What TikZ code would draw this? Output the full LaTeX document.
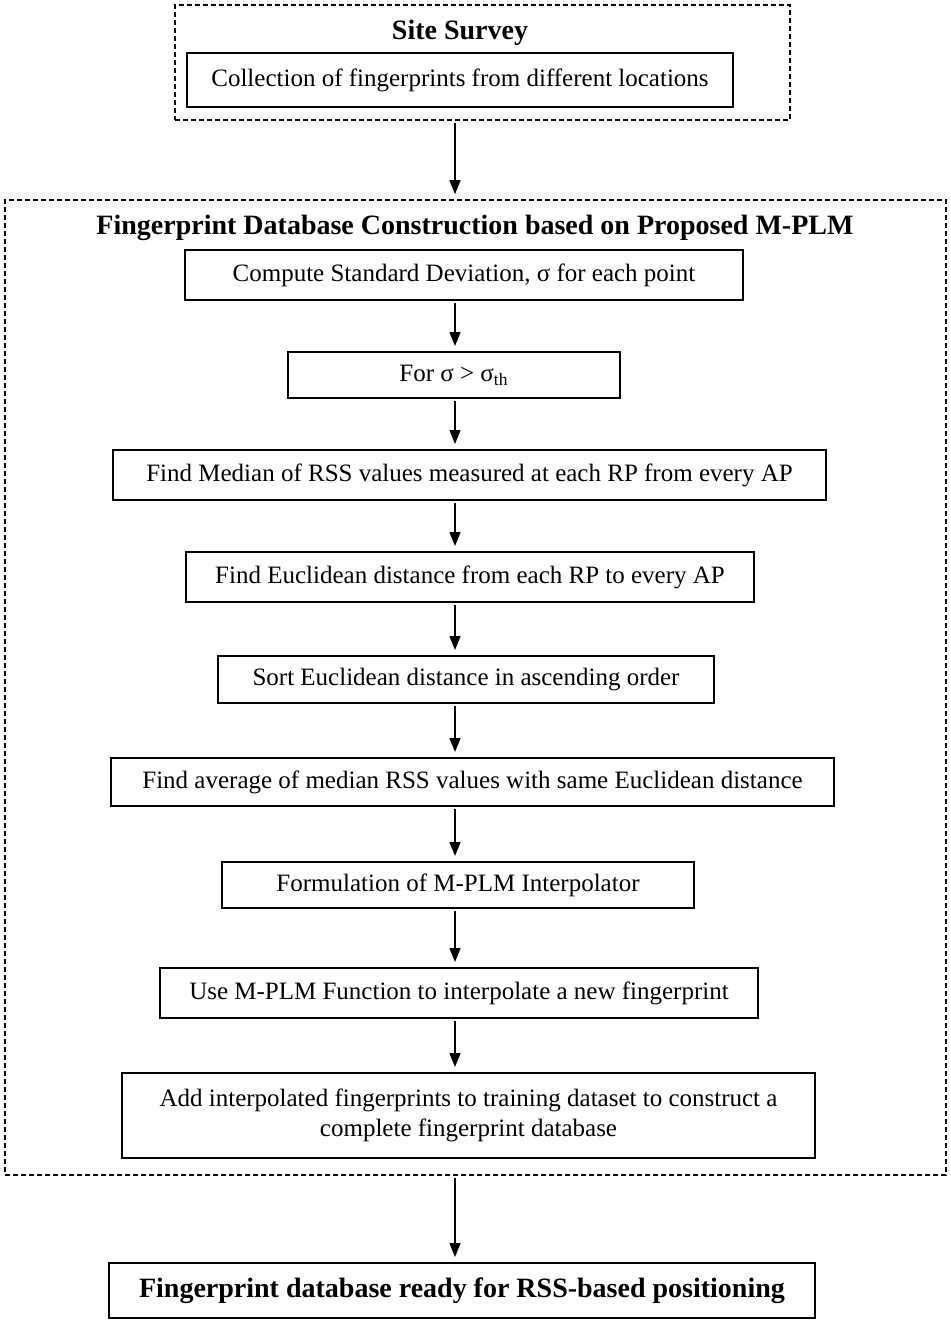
\documentclass[tikz,border=0pt]{standalone}
\usepackage{fontspec}
\setmainfont{Liberation Serif}
\usetikzlibrary{arrows.meta}
\begin{document}
\begin{tikzpicture}[x=0.5pt,y=-0.5pt,
 stepbox/.style={draw, line width=1pt, inner sep=0pt, font=\fontsize{12.5}{15}\selectfont, align=center},
 grp/.style={draw, line width=0.8pt, dash pattern=on 2.5pt off 1.5pt, inner sep=0pt},
 arr/.style={-{Triangle[length=7pt,width=5.5pt]}, line width=0.7pt, shorten <=1pt, shorten >=2.5pt},
 ttl/.style={font=\bfseries\fontsize{14}{17}\selectfont, inner sep=0pt},
 fin/.style={draw, line width=1pt, inner sep=0pt, font=\bfseries\fontsize{14}{17}\selectfont}]
\useasboundingbox (0,0) rectangle (950,1323);
% Site survey group
\node[grp, minimum width=307.5pt, minimum height=57.5pt] (ss) at (482.5,62.5) {};
\node[ttl] (sst) at (460,33) {Site Survey};
\node[stepbox, minimum width=273pt, minimum height=27pt] (col) at (460,80) {Collection of fingerprints from different locations};
% database construction group
\node[grp, minimum width=470.5pt, minimum height=487.5pt] (db) at (475.5,687.5) {};
\node[ttl] (dbt) at (475,228) {Fingerprint Database Construction based on Proposed M-PLM};
\coordinate (ax) at (455,0);
\node[stepbox, minimum width=279pt, minimum height=25pt] (b1) at (464,275) {Compute Standard Deviation, σ for each point};
\node[stepbox, minimum width=166pt, minimum height=23pt] (b2) at (454,375) {For σ > σ\textsubscript{th}};
\node[stepbox, minimum width=356.5pt, minimum height=25pt] (b3) at (469.5,475) {Find Median of RSS values measured at each RP from every AP};
\node[stepbox, minimum width=284pt, minimum height=25pt] (b4) at (470,577) {Find Euclidean distance from each RP to every AP};
\node[stepbox, minimum width=248pt, minimum height=23.5pt] (b5) at (466,679.5) {Sort Euclidean distance in ascending order};
\node[stepbox, minimum width=361.5pt, minimum height=24pt] (b6) at (472.5,782) {Find average of median RSS values with same Euclidean distance};
\node[stepbox, minimum width=236pt, minimum height=23pt] (b7) at (458,885) {Formulation of M-PLM Interpolator};
\node[stepbox, minimum width=299pt, minimum height=25pt] (b8) at (459,993) {Use M-PLM Function to interpolate a new fingerprint};
\node[stepbox, minimum width=346.5pt, minimum height=42.5pt] (b9) at (468.5,1115.5) {Add interpolated fingerprints to training dataset to construct a\\complete fingerprint database};
\node[fin, minimum width=353pt, minimum height=27.5pt] (fn) at (462,1290.5) {Fingerprint database ready for RSS-based positioning};
% connectors
\draw[arr] (ss.south -| ax) -- (db.north -| ax);
\draw[arr] (b1.south -| ax) -- (b2.north -| ax);
\draw[arr] (b2.south -| ax) -- (b3.north -| ax);
\draw[arr] (b3.south -| ax) -- (b4.north -| ax);
\draw[arr] (b4.south -| ax) -- (b5.north -| ax);
\draw[arr] (b5.south -| ax) -- (b6.north -| ax);
\draw[arr] (b6.south -| ax) -- (b7.north -| ax);
\draw[arr] (b7.south -| ax) -- (b8.north -| ax);
\draw[arr] (b8.south -| ax) -- (b9.north -| ax);
\draw[arr] (db.south -| ax) -- (fn.north -| ax);
\end{tikzpicture}
\end{document}
